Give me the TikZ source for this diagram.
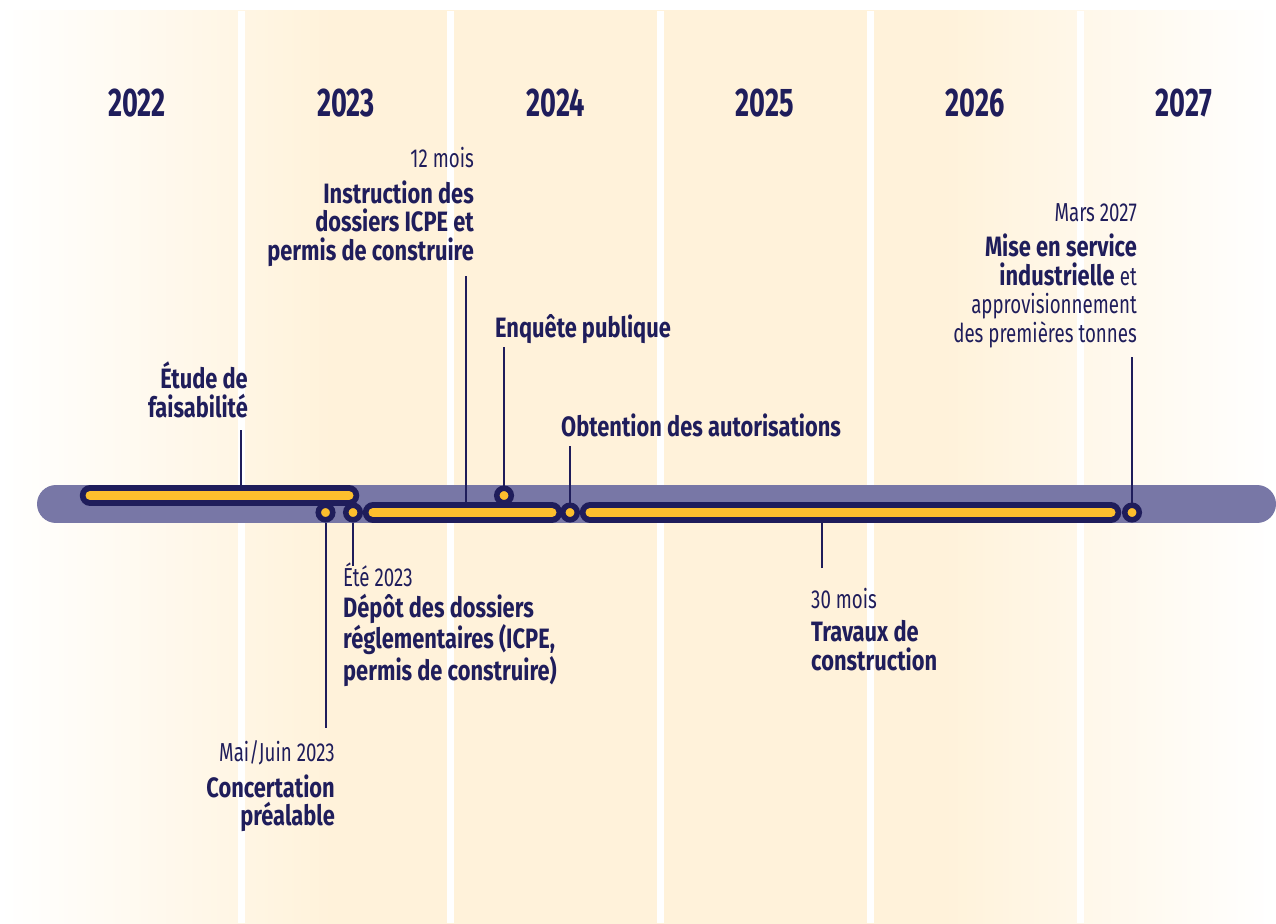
\documentclass[tikz,border=0pt]{standalone}
\usepackage{fontspec}
\setmainfont{Fira Sans}[FakeStretch=0.78]
\newfontfamily\yearfont{Fira Sans}[FakeStretch=0.68]
\newfontfamily\datefont{Fira Sans}[FakeStretch=0.72]
\definecolor{navy}{HTML}{1F1D5B}
\definecolor{violette}{HTML}{7877A6}
\definecolor{jaune}{HTML}{FDBF2D}
\definecolor{creme}{HTML}{FFF2DA}
\pgfdeclarehorizontalshading{fondcreme}{100bp}{color(0bp)=(white); color(25bp)=(white); color(38bp)=(creme); color(62bp)=(creme); color(75bp)=(white); color(100bp)=(white)}
\newcommand{\leger}[1]{{\datefont\mdseries\fontsize{26}{28.5}\selectfont #1}}

\begin{document}
\begin{tikzpicture}[x=1pt, y=-1pt]
\tikzset{annee/.style={anchor=base, text=navy, inner sep=0pt, font=\yearfont\bfseries\fontsize{40}{40}\selectfont},
  datelbl/.style={text=navy, inner sep=0pt, font=\datefont\fontsize{26}{28.5}\selectfont},
  titre/.style={text=navy, inner sep=0pt, font=\bfseries\fontsize{28}{28.5}\selectfont},
  jalon/.style={circle, draw=navy, fill=jaune, line width=5.5pt, minimum size=14.5pt, inner sep=0pt},
  trait/.style={draw=navy, line width=2pt},
  barre/.style={draw=navy, line width=5.75pt, double=jaune, double distance=9pt, line cap=round},
  bande/.style={draw=violette, line width=38pt, line cap=round}}
\useasboundingbox (0,0) rectangle (1276,923);
\fill[white] (0,0) rectangle (1276,923);
% fond en colonnes
\fill[shading=fondcreme] (0,11) rectangle (1276,923);
\foreach \g in {238,447,657,867,1077}
  \fill[white] (\g,11) rectangle ++(7,912);
\foreach \an/\x in {2022/137,2023/346,2024/556,2025/765,2026/975,2027/1184}
  \node[annee] (a\an) at (\x,117) {\an};
% bande de fond
\coordinate (bandeA) at (56,504);
\coordinate (bandeB) at (1257,504);
\draw[bande] (bandeA) -- (bandeB);
% extremites des barres
\coordinate (bEtudeA) at (90,495.5);
\coordinate (bEtudeB) at (349,495.5);
\coordinate (bInstrA) at (373,512.5);
\coordinate (bInstrB) at (552,512.5);
\coordinate (bTravA) at (590,512.5);
\coordinate (bTravB) at (1111,512.5);
% bouts libres des traits
\coordinate (lEtude) at (241,430);
\coordinate (lInstr) at (466,276);
\coordinate (lTrav) at (822,568);
\coordinate (lEnq) at (504,347);
\coordinate (lObt) at (570,446);
\coordinate (lMise) at (1132,357);
\coordinate (lDepot) at (353,566);
\coordinate (lConc) at (325.5,728);
\draw[trait] (lEtude) -- (lEtude |- bEtudeA);
\draw[trait] (lInstr) -- (lInstr |- bInstrA);
\draw[trait] (lTrav) -- (lTrav |- bTravA);
\draw[barre] (bEtudeA) -- (bEtudeB);
\draw[barre] (bInstrA) -- (bInstrB);
\draw[barre] (bTravA) -- (bTravB);
% jalons
\node[jalon] (jConc) at (325.5,512.5) {};
\node[jalon] (jDepot) at (353,512.5) {};
\node[jalon] (jEnq) at (504,495.5) {};
\node[jalon] (jObt) at (570,512.5) {};
\node[jalon] (jMise) at (1132,512.5) {};
\draw[trait] (jConc) -- (lConc);
\draw[trait] (jDepot) -- (lDepot);
\draw[trait] (jEnq) -- (lEnq);
\draw[trait] (jObt) -- (lObt);
\draw[trait] (jMise) -- (lMise);
% textes (ancre sur la derniere ligne)
\node[titre, align=right, anchor=base east] (etude) at (248,417) {Étude de\\faisabilité};
\node[datelbl, anchor=base east] (instrDate) at (474,167) {12 mois};
\node[titre, align=right, anchor=base east] (instr) at (474,260) {Instruction des\\dossiers ICPE et\\permis de construire};
\node[titre, anchor=base west] (enquete) at (495,337) {Enquête publique};
\node[titre, anchor=base west] (obtention) at (561,436) {Obtention des autorisations};
\node[datelbl, anchor=base east] (miseDate) at (1137,221) {Mars 2027};
\node[titre, align=right, anchor=base east] (mise) at (1137,342) {Mise en service\\industrielle \leger{et}\\\leger{approvisionnement}\\\leger{des premières tonnes}};
\node[datelbl, anchor=base west] (eteDate) at (343,586) {Été 2023};
\node[titre, align=left, anchor=base west] (depot) at (343,680) {Dépôt des dossiers\\réglementaires (ICPE,\\permis de construire)};
\node[datelbl, anchor=base east] (concDate) at (335,761) {Mai/Juin 2023};
\node[titre, align=right, anchor=base east] (conc) at (335,825.5) {Concertation\\préalable};
\node[datelbl, anchor=base west] (travDate) at (811,608) {30 mois};
\node[titre, align=left, anchor=base west] (trav) at (811,670) {Travaux de\\construction};
\end{tikzpicture}
\end{document}
